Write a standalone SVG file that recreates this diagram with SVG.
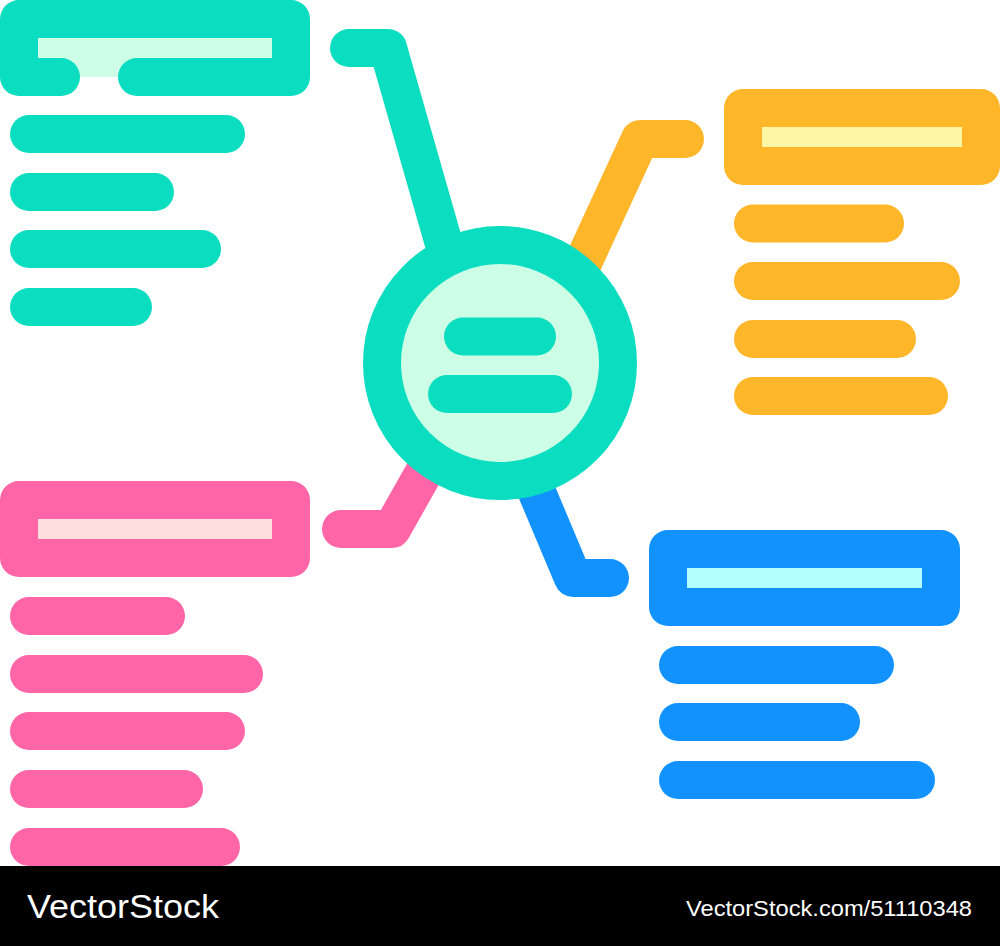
<svg xmlns="http://www.w3.org/2000/svg" width="1000" height="946" viewBox="0 0 1000 946">
<style>
.s{fill:none;stroke-width:38;stroke-linecap:round;stroke-linejoin:round}
.t{stroke:#0BDDC0}.o{stroke:#FFB629}.p{stroke:#FF65A7}.b{stroke:#1192FF}
.wm{font-family:"Liberation Sans",Arial,sans-serif;fill:#fff}
</style>
<rect width="1000" height="946" fill="#fff"/>
<g id="connectors">
<polyline class="s t" points="349,48 388,48 460,300"/>
<polyline class="s o" points="685,139 640,139 575,280"/>
<polyline class="s p" points="341,529 392,529 445,435"/>
<polyline class="s b" points="515,440 573,578 610,578"/>
</g>
<g id="center">
<circle cx="500" cy="363" r="118" fill="#CCFFE6" stroke="#0BDDC0" stroke-width="38"/>
<line class="s t" x1="463" y1="336.5" x2="537" y2="336.5"/>
<line class="s t" x1="447" y1="394" x2="553" y2="394"/>
</g>
<g id="node-teal">
<rect x="38" y="38" width="234" height="39" fill="#CCFFE6"/>
<path class="s t" d="M61,77 H19 V19 H291 V77 H137"/>
<line class="s t" x1="29" y1="134" x2="226" y2="134"/>
<line class="s t" x1="29" y1="192" x2="155" y2="192"/>
<line class="s t" x1="29" y1="249" x2="202" y2="249"/>
<line class="s t" x1="29" y1="307" x2="133" y2="307"/>
</g>
<g id="node-orange">
<rect x="743" y="108" width="238" height="58" class="s o" style="fill:#FFF6A5"/>
<line class="s o" x1="753" y1="223.5" x2="885" y2="223.5"/>
<line class="s o" x1="753" y1="281" x2="941" y2="281"/>
<line class="s o" x1="753" y1="339" x2="897" y2="339"/>
<line class="s o" x1="753" y1="396" x2="929" y2="396"/>
</g>
<g id="node-pink">
<rect x="19" y="500" width="272" height="58" class="s p" style="fill:#FFDEDF"/>
<line class="s p" x1="29" y1="616" x2="166" y2="616"/>
<line class="s p" x1="29" y1="674" x2="244" y2="674"/>
<line class="s p" x1="29" y1="731" x2="226" y2="731"/>
<line class="s p" x1="29" y1="789" x2="184" y2="789"/>
<line class="s p" x1="29" y1="847" x2="221" y2="847"/>
</g>
<g id="node-blue">
<rect x="668" y="549" width="273" height="58" class="s b" style="fill:#B3FFFF"/>
<line class="s b" x1="678" y1="665" x2="875" y2="665"/>
<line class="s b" x1="678" y1="722" x2="841" y2="722"/>
<line class="s b" x1="678" y1="780" x2="916" y2="780"/>
</g>
<g id="watermark">
<rect x="0" y="866" width="1000" height="80" fill="#000"/>
<text class="wm" x="27" y="918" font-size="34" textLength="192" lengthAdjust="spacingAndGlyphs">VectorStock</text>
<text class="wm" x="686" y="916" font-size="22" textLength="286" lengthAdjust="spacingAndGlyphs">VectorStock.com/51110348</text>
</g>
</svg>
